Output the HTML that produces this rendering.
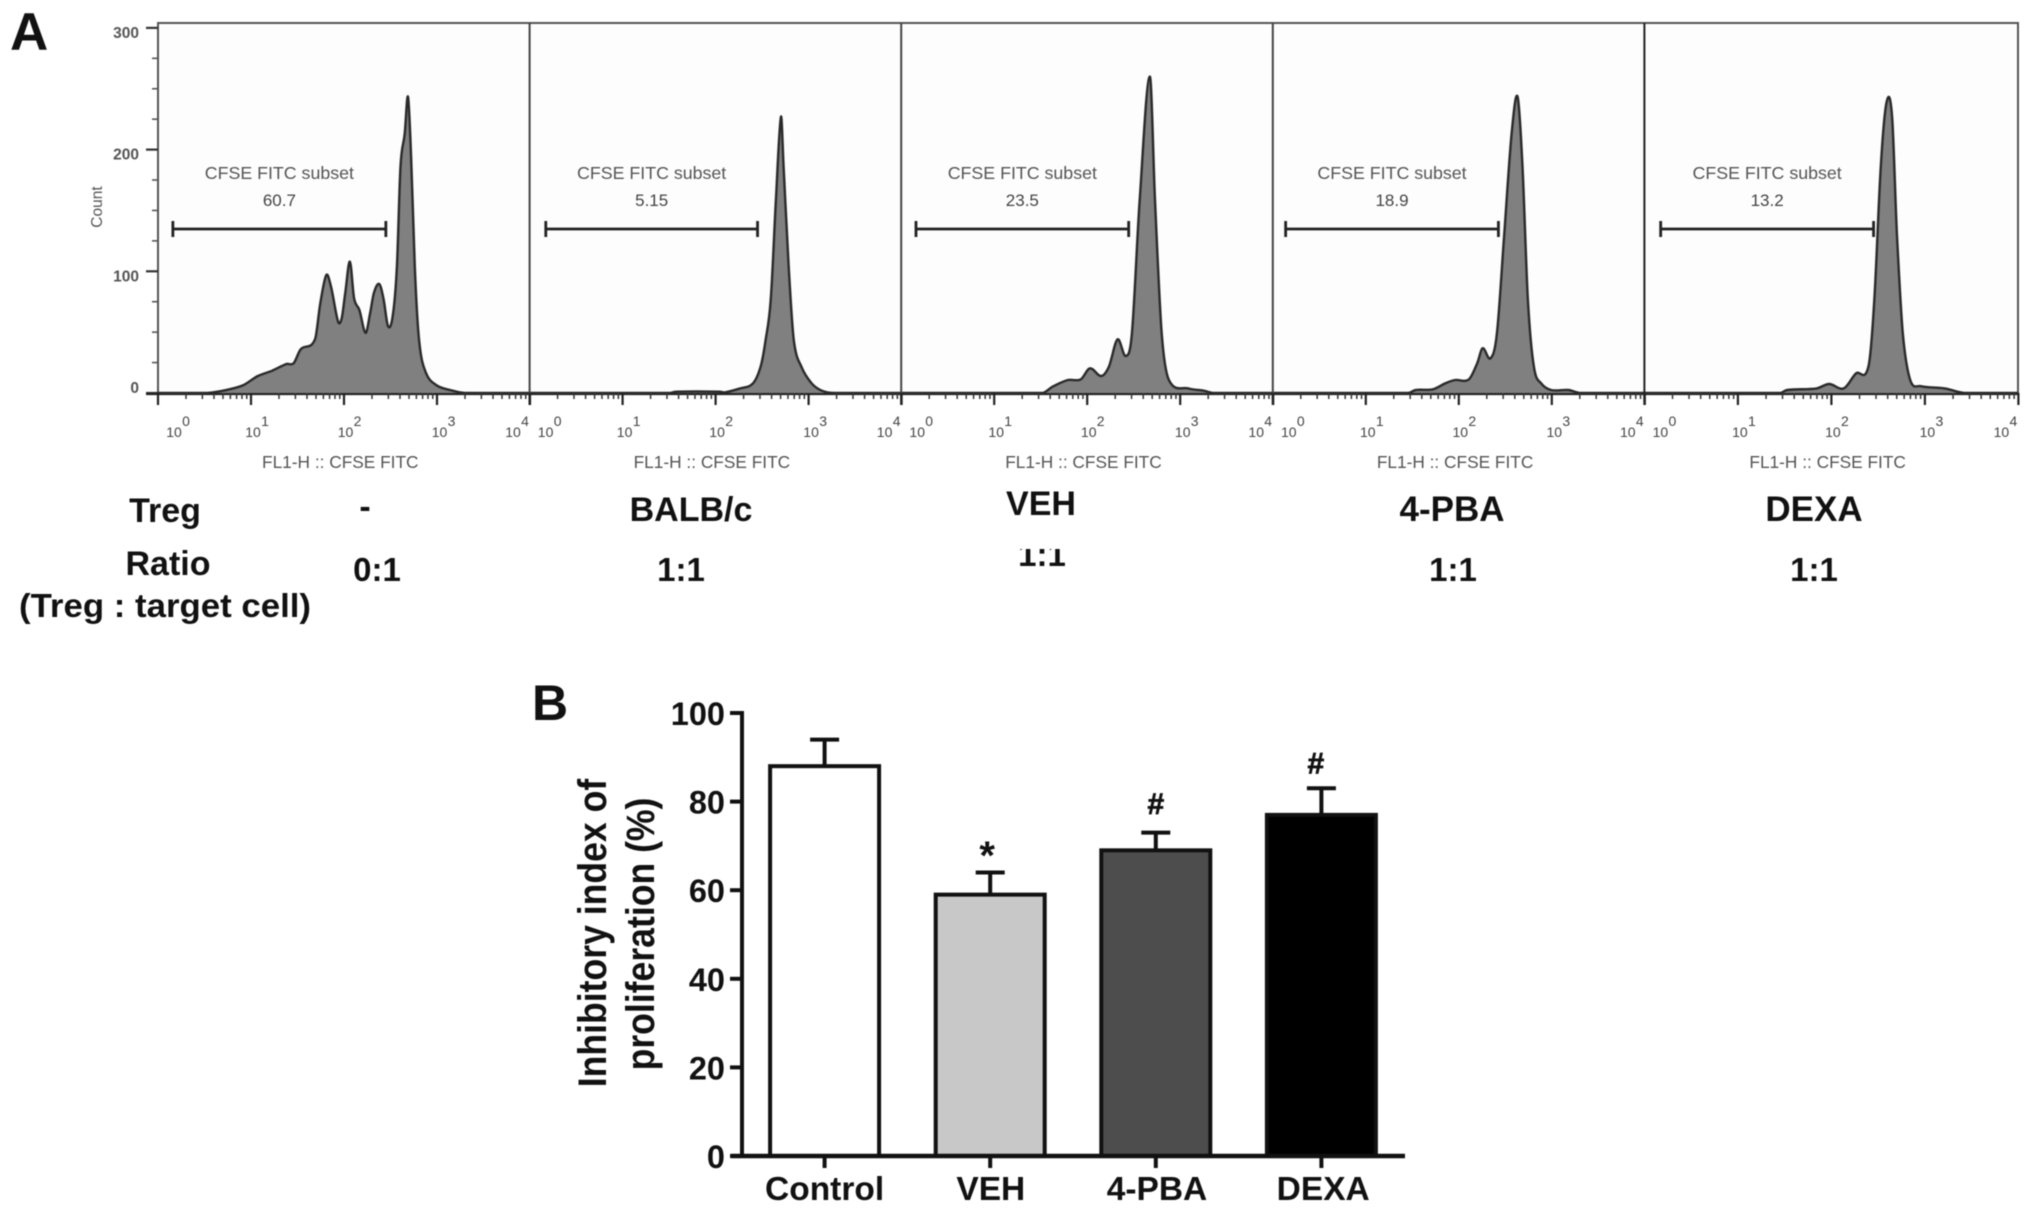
<!DOCTYPE html>
<html lang="en">
<head>
<meta charset="utf-8">
<title>CFSE proliferation histograms and inhibitory index</title>
<style>
html,body{margin:0;padding:0;background:#fff;width:2031px;height:1213px;overflow:hidden}
svg{display:block;filter:blur(.6px);font-family:"Liberation Sans",Arial,sans-serif}
.lbl{font-weight:700;font-size:34px;fill:#111;text-anchor:middle}
.val{font-weight:700;font-size:33px;fill:#111;text-anchor:middle}
</style>
</head>
<body>
<svg id="fig" xmlns="http://www.w3.org/2000/svg" width="2031" height="1213" viewBox="0 0 2031 1213">
  <rect x="0" y="0" width="2031" height="1213" fill="#fff"/>
  <text x="10" y="50" font-size="53" font-weight="700" fill="#111">A</text>
  <text x="532" y="720" font-size="50" font-weight="700" fill="#111">B</text>
  <g id="flow"></g>

  <text class="lbl" x="165" y="522">Treg</text>
  <text class="lbl" x="365" y="518">-</text>
  <text class="lbl" x="691" y="521">BALB/c</text>
  <text class="lbl" x="1041" y="515">VEH</text>
  <text class="lbl" x="1452" y="521" font-size="35" style="font-size:35px">4-PBA</text>
  <text class="lbl" x="1814" y="521" style="font-size:35px">DEXA</text>
  <text class="lbl" x="168" y="575">Ratio</text>
  <text class="val" x="377" y="581">0:1</text>
  <text class="val" x="681" y="581">1:1</text>
  <text class="val" x="1042" y="566">1:1</text>
  <rect x="1010" y="535" width="66" height="14" fill="#fff"/>
  <text class="val" x="1453" y="581">1:1</text>
  <text class="val" x="1814" y="581">1:1</text>
  <text class="val" x="165" y="617" textLength="292" lengthAdjust="spacingAndGlyphs">(Treg : target cell)</text>

  <g id="bars"></g>
  <text transform="translate(606,933) rotate(-90) scale(1,1.12)" text-anchor="middle" font-size="35.6" font-weight="700" fill="#111">Inhibitory index of</text>
  <text transform="translate(654,934) rotate(-90) scale(1,1.12)" text-anchor="middle" font-size="35.6" font-weight="700" fill="#111">proliferation (%)</text>
</svg>

<script>
// ---------- Panel A data: log10 fluorescence and event counts ----------
const histLog1 = [0,0.5,0.576,0.768,0.921,1.074,1.228,1.381,1.458,1.534,1.688,1.745,1.81,1.86,1.937,1.975,2.013,2.063,2.109,2.166,2.232,2.281,2.32,2.378,2.424,2.473,2.523,2.569,2.607,2.653,2.688,2.722,2.761,2.807,2.876,2.99,3.14,3.3,4];
const histCount1 = [0,0,0.3,3,6.6,14,18.3,23.8,24.4,35.9,44.1,73.7,97,87.4,58.6,61.4,81.9,107.9,77.8,68.2,49.5,65.5,81.9,89.6,77.8,55,62.7,103.8,186,213,243.5,194,103.8,43.5,17.5,6.6,2.5,0,0];
const histLog2 = [0,1.5,1.577,2.044,2.099,2.264,2.401,2.484,2.538,2.593,2.648,2.703,2.731,2.786,2.841,2.923,3.033,3.143,3.28,4];
const histCount2 = [0,0,1.1,1.1,0.5,3.8,7.9,21.6,43.5,76.4,158.6,227,186,103.8,43.5,21.6,7.9,1.9,0,0];
const histLog3 = [0,1.517,1.627,1.793,1.93,2.03,2.151,2.233,2.327,2.415,2.481,2.564,2.674,2.729,2.801,2.878,3.087,3.253,3.363,4];
const histCount3 = [0,0,5.2,10.7,11.2,20.3,14,21.6,44.1,30.4,49,158.6,260,158.6,49,10.7,3.8,1.9,0,0];
const histLog4 = [0,1.457,1.537,1.722,1.854,1.96,2.108,2.198,2.256,2.341,2.41,2.489,2.568,2.632,2.685,2.743,2.807,2.886,2.992,3.177,3.309,4];
const histCount4 = [0,0,2.5,3,7.9,10.7,11.2,24.4,36.7,28.5,49,131,213,243.5,186,76.4,21.6,7.9,2.5,2.5,0,0];
const histLog5 = [0,1.449,1.528,1.843,1.975,2.133,2.264,2.396,2.459,2.528,2.591,2.649,2.701,2.764,2.843,2.949,3.212,3.422,4];
const histCount5 = [0,0,2.5,3.8,7.4,3.8,16.2,21.6,76.4,186,239.4,227,131,49,10.7,5.7,3.8,0,0];
const gatePercents = ['60.7','5.15','23.5','18.9','13.2'];
const gateFromLog = [0.16,0.174,0.159,0.138,0.174];
const gateToLog = [2.45,2.451,2.446,2.426,2.451];
const countTicks = [0,100,200,300];
const decades = [0,1,2,3,4];

// ---------- Panel B data ----------
const categories = ['Control','VEH','4-PBA','DEXA'];
const meanValues = [88,59,69,77];
const errorValues = [6,5,4,6];
const markers = ['','*','#','#'];
const percentTicks = [0,20,40,60,80,100];
const barFills = ['#ffffff','#c8c8c8','#4d4d4d','#000000'];

const NS = 'http://www.w3.org/2000/svg';
function mk(tag, parent, attrs, text){
  const el = document.createElementNS(NS, tag);
  for (const k in attrs) el.setAttribute(k, attrs[k]);
  if (text !== undefined) el.textContent = text;
  parent.appendChild(el);
  return el;
}

// ---------- Panel A axes ----------
const panelX = (p, lg) => 158 + 371.6 * p + lg * (p === 4 ? 93.5 : 93);
const countY = c => 393 - c * 1.217;
const flow = document.getElementById('flow');
const histLogs = [histLog1, histLog2, histLog3, histLog4, histLog5];
const histCounts = [histCount1, histCount2, histCount3, histCount4, histCount5];

function smoothPath(xs, ys){
  const n = xs.length;
  const slope = i => {
    const a = Math.max(i - 1, 0), b = Math.min(i + 1, n - 1);
    return (ys[b] - ys[a]) / (xs[b] - xs[a]);
  };
  let d = 'M' + xs[0].toFixed(1) + ' ' + ys[0].toFixed(1);
  for (let i = 0; i < n - 1; i++){
    const h = xs[i+1] - xs[i];
    const c1y = Math.min(393, ys[i] + slope(i) * h / 3);
    const c2y = Math.min(393, ys[i+1] - slope(i+1) * h / 3);
    d += 'C' + (xs[i] + h / 3).toFixed(1) + ' ' + c1y.toFixed(1) + ' ' + (xs[i+1] - h / 3).toFixed(1) + ' ' + c2y.toFixed(1) + ' ' + xs[i+1].toFixed(1) + ' ' + ys[i+1].toFixed(1);
  }
  return d;
}

const frameBg = mk('rect', flow, {x:158, y:23, width:1860, height:370, fill:'#fdfdfd', stroke:'#555', 'stroke-width':2});



// y axis
countTicks.forEach(v => {
  const t = mk('line', flow, {x1:146, x2:158, y1:countY(v), y2:countY(v), stroke:'#333', 'stroke-width':2.2});
  
  
  const lab = mk('text', flow, {x:139, y:countY(v) + (v === 0 ? 0 : 10), 'text-anchor':'end', 'font-size':15.5, 'font-weight':700, fill:'#555'}, String(v));
  
  
});
for (let v = 25; v < 300; v += 25){
  if (v % 100 === 0) continue;
  const t = mk('line', flow, {x1:152, x2:158, y1:countY(v), y2:countY(v), stroke:'#555', 'stroke-width':1.6});
  
  
}
const countTitle = mk('text', flow, {transform:'translate(102,207) rotate(-90)', 'text-anchor':'middle', 'font-size':15.5, fill:'#555'}, 'Count');



const axisBase = mk('line', flow, {x1:146, x2:2018, y1:394, y2:394, stroke:'#222', 'stroke-width':2.2});



const labelShift = [16, 2, 1.5, 2.5, -17];
histLogs.forEach((logs, p) => {
  const counts = histCounts[p];
  const xs = logs.map(l => panelX(p, l));
  const ys = counts.map(countY);
  const line = smoothPath(xs, ys);

  const area = mk('path', flow, {d: line + 'L' + panelX(p, 4) + ' 393L' + panelX(p, 0) + ' 393Z', fill:'#808080', stroke:'none'});
  
  
  const outline = mk('path', flow, {d: line, fill:'none', stroke:'#2a2a2a', 'stroke-width':2.4});
  
  

  if (p > 0){
    const div = mk('line', flow, {x1:panelX(p, 0), x2:panelX(p, 0), y1:23, y2:400, stroke:p === 4 ? '#222' : '#444', 'stroke-width':2});
    
    
  }

  // log ticks
  decades.forEach(d => {
    const tx = panelX(p, d);
    const tk = mk('line', flow, {x1:tx, x2:tx, y1:393, y2:405, stroke:'#222', 'stroke-width':2.2});
    
    
    if (d < 4){
      for (let m = 2; m < 10; m++){
        const mx = panelX(p, d + Math.log10(m));
        const mt = mk('line', flow, {x1:mx, x2:mx, y1:393, y2:399, stroke:'#333', 'stroke-width':1.5});
        
        
      }
    }
    const tl = mk('text', flow, {x:tx + labelShift[d], y:437, 'text-anchor':'middle', 'font-size':14, fill:'#444'}, '10');
    
    
    const sup = mk('text', flow, {x:tx + labelShift[d] + 12, y:426, 'text-anchor':'middle', 'font-size':14, fill:'#444'}, String(d));
    
    
  });

  const xTitle = mk('text', flow, {x:panelX(p, 1.96), y:468, 'text-anchor':'middle', 'font-size':17.3, fill:'#555'}, 'FL1-H :: CFSE FITC');
  
  

  // gate
  const gx1 = panelX(p, gateFromLog[p]), gx2 = panelX(p, gateToLog[p]), mid = (gx1 + gx2) / 2;
  const gate = mk('path', flow, {d:'M' + gx1 + ' 221V237M' + gx1 + ' 229H' + gx2 + 'M' + gx2 + ' 221V237', fill:'none', stroke:'#222', 'stroke-width':2.8});
  
  
  const gt = mk('text', flow, {x:mid, y:179, 'text-anchor':'middle', 'font-size':17.8, fill:'#555'}, 'CFSE FITC subset');
  
  
  const gv = mk('text', flow, {x:mid, y:206, 'text-anchor':'middle', 'font-size':17, fill:'#444'}, gatePercents[p]);
  
  
});

// ---------- Panel B axes ----------
const bars = document.getElementById('bars');
const valY = v => 1156 - v * 4.43;
const catX = i => 824.6 + i * 165.6;
const barWidth = 109;

percentTicks.forEach(v => {
  const t = mk('line', bars, {x1:730, x2:742, y1:valY(v), y2:valY(v), stroke:'#111', 'stroke-width':4});
  
  
  const lab = mk('text', bars, {x:725, y:valY(v) + 12, 'text-anchor':'end', 'font-size':32.5, 'font-weight':700, fill:'#111'}, String(v));
  
  
});

categories.forEach((c, i) => {
  const x = catX(i), top = valY(meanValues[i]), errTop = valY(meanValues[i] + errorValues[i]);
  const err = mk('path', bars, {d:'M' + x + ' ' + top + 'V' + errTop + 'M' + (x - 14.5) + ' ' + errTop + 'H' + (x + 14.5), fill:'none', stroke:'#111', 'stroke-width':4});
  
  
  const bar = mk('rect', bars, {x:x - barWidth / 2, y:top, width:barWidth, height:valY(0) - top, fill:barFills[i], stroke:'#111', 'stroke-width':4});
  
  
  const tk = mk('line', bars, {x1:x, x2:x, y1:1156, y2:1168, stroke:'#111', 'stroke-width':4});
  
  
  const lab = mk('text', bars, {x:x + i * 0.6, y:1200, 'text-anchor':'middle', 'font-size':33.5, 'font-weight':700, fill:'#111'}, c);
  
  
  if (markers[i]){
    const isStar = markers[i] === '*';
    const mark = mk('text', bars, {x:x - (isStar ? 3 : 0) - (i === 3 ? 5.5 : 0), y:errTop - (isStar ? 3.6 : (i === 2 ? 18.7 : 14.7)), 'text-anchor':'middle', 'font-size':isStar ? 40 : 30, 'font-weight':700, fill:'#111', stroke:'#111', 'stroke-width':isStar ? 0 : 0.7}, markers[i]);
    
    
  }
});

const yAxis = mk('line', bars, {x1:742, x2:742, y1:valY(100) - 2, y2:1158, stroke:'#111', 'stroke-width':4});


const xAxis = mk('line', bars, {x1:731, x2:1405, y1:1156, y2:1156, stroke:'#111', 'stroke-width':4.5});


</script>
</body>
</html>
